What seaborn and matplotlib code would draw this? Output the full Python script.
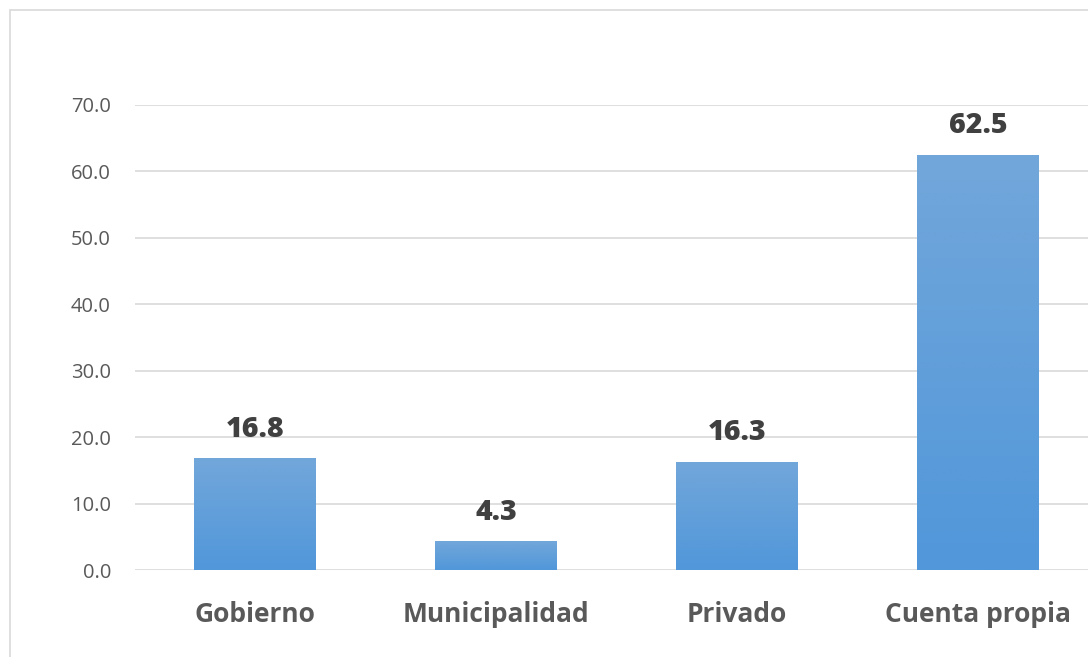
import numpy as np
import pandas as pd
import matplotlib
matplotlib.use("Agg")
import matplotlib.pyplot as plt
import seaborn as sns
from matplotlib.colors import LinearSegmentedColormap
from matplotlib.patches import Rectangle

categories = ["Gobierno", "Municipalidad", "Privado", "Cuenta propia"]
values = [16.8, 4.3, 16.3, 62.5]
yticks = [0, 10, 20, 30, 40, 50, 60, 70]

sns.set_theme(style="white")
plt.rcParams['font.family'] = ['Open Sans', 'DejaVu Sans']

fig = plt.figure(figsize=(10.88, 6.57), dpi=100)
ax = fig.add_axes([134.5 / 1088, 87 / 657, 964 / 1088, 465 / 657])

df = pd.DataFrame({"cat": categories, "val": values})
sns.barplot(data=df, x="cat", y="val", ax=ax, width=0.506, color="#5B9BD5",
            saturation=1)

cmap = LinearSegmentedColormap.from_list("g", ["#5197DA", "#72A7DA"])
grad = np.linspace(0, 1, 256).reshape(-1, 1)
for p in ax.patches:
    x0, y0 = p.get_x(), p.get_y()
    w, h = p.get_width(), p.get_height()
    p.set_facecolor("none")
    p.set_edgecolor("none")
    im = ax.imshow(grad, cmap=cmap, origin="lower", aspect="auto",
                   extent=(x0, x0 + w, y0, y0 + h), zorder=2)
    im.set_clip_path(p)
    ax.annotate(f"{h:.1f}", (x0 + w / 2, y0 + h), xytext=(0, 10.5),
                textcoords="offset points", ha="center", va="bottom",
                fontsize=20.5, fontweight=800, color="#404040")

ax.set_xlim(-0.5, 3.5)
ax.set_ylim(0, 70)
ax.set_yticks(yticks)
ax.set_yticklabels([f"{t:.1f}" for t in yticks])
ax.yaxis.grid(True, color="#D9D9D9", linewidth=1.2)
ax.set_axisbelow(True)
for s in ax.spines.values():
    s.set_visible(False)
ax.set_xlabel("")
ax.set_ylabel("")
ax.tick_params(axis="y", length=0, pad=17, labelsize=14.5, labelcolor="#595959")
ax.tick_params(axis="x", length=0, pad=22, labelsize=19, labelcolor="#595959")
for lbl in ax.get_xticklabels():
    lbl.set_fontweight("bold")

fig.patches.append(Rectangle((10 / 1088, -0.1), 1.2, (647 / 657) + 0.1,
                             transform=fig.transFigure, fill=False,
                             edgecolor="#D9D9D9", linewidth=1.2))

fig.savefig("out.png", dpi=100)
